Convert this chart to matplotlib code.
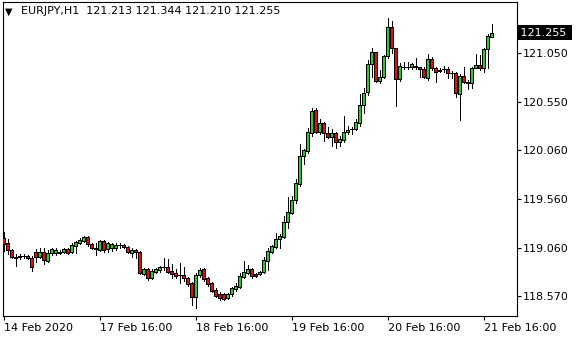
import matplotlib
matplotlib.use("Agg")
import matplotlib.pyplot as plt
from matplotlib.patches import Rectangle

# EURJPY H1 candles, bar 0 = 14 Feb 2020 16:00
opens = [
    119.162, 119.111, 119.040, 118.969, 118.969, 118.979, 118.979, 118.958, 119.020, 118.969,
    119.020, 118.928, 119.009, 119.009, 119.020, 119.020, 119.050, 119.020, 119.081, 119.111,
    119.132, 119.173, 119.101, 119.060, 119.040, 119.132, 119.050, 119.060, 119.060, 119.091,
    119.091, 119.071, 119.009, 119.040, 119.020, 118.795, 118.846, 118.754, 118.815, 118.836,
    118.866, 118.866, 118.826, 118.805, 118.785, 118.785, 118.754, 118.703, 118.560, 118.785,
    118.846, 118.754, 118.703, 118.632, 118.591, 118.591, 118.550, 118.591, 118.642, 118.662,
    118.764, 118.805, 118.846, 118.795, 118.795, 118.815, 118.928, 119.020, 119.071, 119.152,
    119.173, 119.326, 119.418, 119.550, 119.713, 119.999, 120.050, 120.234, 120.469, 120.244,
    120.336, 120.234, 120.193, 120.234, 120.142, 120.162, 120.244, 120.275, 120.275, 120.336,
    120.520, 120.652, 120.938, 121.060, 120.764, 120.805, 121.020, 121.315, 121.101, 120.785,
    120.907, 120.907, 120.907, 120.918, 120.907, 120.887, 120.795, 120.989, 120.897, 120.877,
    120.887, 120.887, 120.846, 120.846, 120.632, 120.815, 120.754, 120.744, 120.897, 120.928,
    120.897, 121.091, 121.213,
]
highs = [
    119.224, 119.152, 119.050, 118.999, 118.999, 118.999, 118.989, 118.979, 119.050, 119.060,
    119.060, 119.040, 119.060, 119.060, 119.040, 119.060, 119.060, 119.111, 119.132, 119.162,
    119.183, 119.183, 119.111, 119.111, 119.142, 119.142, 119.122, 119.111, 119.111, 119.111,
    119.101, 119.081, 119.060, 119.050, 119.030, 118.856, 118.856, 118.846, 118.856, 118.877,
    118.958, 118.948, 118.897, 118.846, 118.907, 118.866, 118.764, 118.713, 118.805, 118.856,
    118.856, 118.764, 118.713, 118.652, 118.611, 118.601, 118.601, 118.662, 118.703, 118.805,
    118.928, 118.887, 118.856, 118.805, 118.826, 118.969, 119.060, 119.091, 119.213, 119.203,
    119.387, 119.581, 119.591, 119.764, 120.122, 120.071, 120.285, 120.489, 120.489, 120.377,
    120.346, 120.295, 120.275, 120.244, 120.203, 120.407, 120.305, 120.295, 120.377, 120.632,
    120.693, 120.979, 121.101, 121.060, 120.877, 121.030, 121.407, 121.377, 121.101, 120.948,
    120.958, 120.958, 120.948, 120.999, 120.907, 120.907, 121.040, 121.009, 120.907, 120.897,
    120.918, 120.907, 120.866, 120.856, 120.836, 120.907, 120.775, 120.907, 121.040, 121.030,
    121.101, 121.244, 121.344,
]
lows = [
    119.030, 118.999, 118.958, 118.877, 118.948, 118.958, 118.948, 118.826, 118.918, 118.958,
    118.897, 118.918, 118.989, 118.989, 118.999, 119.009, 118.999, 119.009, 119.009, 119.101,
    119.122, 119.081, 119.050, 118.989, 119.030, 119.020, 119.020, 119.030, 119.040, 119.060,
    119.060, 119.009, 118.969, 118.958, 118.795, 118.785, 118.734, 118.744, 118.805, 118.815,
    118.836, 118.805, 118.754, 118.754, 118.703, 118.724, 118.673, 118.479, 118.448, 118.764,
    118.724, 118.673, 118.611, 118.560, 118.530, 118.530, 118.540, 118.571, 118.622, 118.652,
    118.754, 118.795, 118.754, 118.764, 118.785, 118.805, 118.836, 119.009, 119.060, 119.060,
    119.162, 119.264, 119.407, 119.520, 119.693, 119.918, 120.030, 120.203, 120.234, 120.224,
    120.152, 120.183, 120.101, 120.081, 120.101, 120.142, 120.224, 120.224, 120.264, 120.305,
    120.438, 120.622, 120.805, 120.754, 120.744, 120.795, 120.999, 121.050, 120.509, 120.764,
    120.887, 120.887, 120.887, 120.887, 120.805, 120.795, 120.775, 120.877, 120.754, 120.856,
    120.856, 120.795, 120.795, 120.601, 120.366, 120.744, 120.683, 120.693, 120.897, 120.877,
    120.856, 120.897, 121.210,
]
closes = [
    119.101, 119.040, 118.969, 118.958, 118.979, 118.979, 118.958, 118.866, 118.969, 119.020,
    118.938, 119.009, 119.050, 119.040, 119.009, 119.050, 119.009, 119.091, 119.122, 119.142,
    119.173, 119.101, 119.060, 119.050, 119.132, 119.040, 119.111, 119.101, 119.091, 119.091,
    119.071, 119.020, 119.040, 119.020, 118.805, 118.846, 118.754, 118.826, 118.846, 118.866,
    118.866, 118.815, 118.795, 118.775, 118.785, 118.754, 118.693, 118.560, 118.785, 118.836,
    118.744, 118.693, 118.622, 118.571, 118.550, 118.540, 118.591, 118.652, 118.673, 118.775,
    118.815, 118.846, 118.775, 118.775, 118.815, 118.938, 119.030, 119.081, 119.152, 119.183,
    119.326, 119.428, 119.550, 119.724, 119.999, 120.061, 120.244, 120.458, 120.244, 120.336,
    120.234, 120.193, 120.234, 120.142, 120.173, 120.244, 120.264, 120.275, 120.346, 120.520,
    120.642, 120.938, 121.060, 120.764, 120.805, 121.020, 121.315, 121.101, 120.785, 120.918,
    120.907, 120.907, 120.938, 120.907, 120.887, 120.805, 120.989, 120.897, 120.856, 120.866,
    120.887, 120.846, 120.846, 120.642, 120.815, 120.754, 120.744, 120.897, 120.928, 120.897,
    121.091, 121.224, 121.255,
]

symbol = "EURJPY,H1"
last_ohlc = ["121.213", "121.344", "121.210", "121.255"]
last_price = 121.255

x_tick_bars = [0, 24, 48, 72, 96, 120]
x_tick_labels = ["14 Feb 2020", "17 Feb 16:00", "18 Feb 16:00",
                 "19 Feb 16:00", "20 Feb 16:00", "21 Feb 16:00"]
y_ticks = [118.570, 119.060, 119.560, 120.060, 120.550, 121.050]

BULL = "#35c435"
BEAR = "#d41414"

W, H = 580, 340
fig = plt.figure(figsize=(W / 100, H / 100), dpi=100)
# plot frame in pixels: x 2.7..517, y 2..316
ax = fig.add_axes([2.7 / W, (H - 316) / H, (517 - 2.7) / W, (316 - 2) / H])

n = len(opens)
body_w = 0.62
for i in range(n):
    o, h, l, c = opens[i], highs[i], lows[i], closes[i]
    ax.vlines(i, l, h, color="black", lw=0.72, antialiased=False, zorder=2)
    if abs(c - o) < 0.002:
        ax.hlines(o, i - 0.4, i + 0.4, color="black", lw=0.72,
                  antialiased=False, zorder=3)
        continue
    col = BULL if c > o else BEAR
    ax.add_patch(Rectangle((i - body_w / 2, min(o, c)), body_w, abs(c - o),
                           facecolor=col, edgecolor="black", lw=0.5,
                           antialiased=False, zorder=3))

ax.set_xlim(-0.25, -0.25 + (517 - 2.7) / 4)
ax.set_ylim(118.366, 121.571)

for s in ax.spines.values():
    s.set_linewidth(0.8)
    s.set_color("black")

ax.yaxis.tick_right()
ax.set_yticks(y_ticks)
ax.set_yticklabels([f"{v:.3f}" for v in y_ticks])
ax.set_xticks(x_tick_bars)
ax.set_xticklabels(x_tick_labels, ha="left")
ax.tick_params(axis="y", direction="out", length=3, width=0.8, pad=1.5,
               labelsize=8, colors="black")
ax.tick_params(axis="x", direction="out", length=3, width=0.8, pad=2,
               labelsize=8, colors="black")

# current price marker on the price scale
ax.add_patch(Rectangle((517 / W, (H - 40) / H), 55 / W, 15 / H,
                       transform=fig.transFigure, facecolor="black",
                       edgecolor="none", zorder=5, clip_on=False))
ax.text(1.0, last_price, f" {last_price:.3f}", transform=ax.get_yaxis_transform(),
        ha="left", va="center", fontsize=8, color="white", zorder=6, clip_on=False)

# header line
ax.text(0.004, 0.97, "\u25bc", transform=ax.transAxes, ha="left", va="center",
        fontsize=7)
ax.text(0.035, 0.97, symbol + "  " + " ".join(last_ohlc), transform=ax.transAxes,
        ha="left", va="center", fontsize=8)

fig.savefig("out.png", dpi=100)
